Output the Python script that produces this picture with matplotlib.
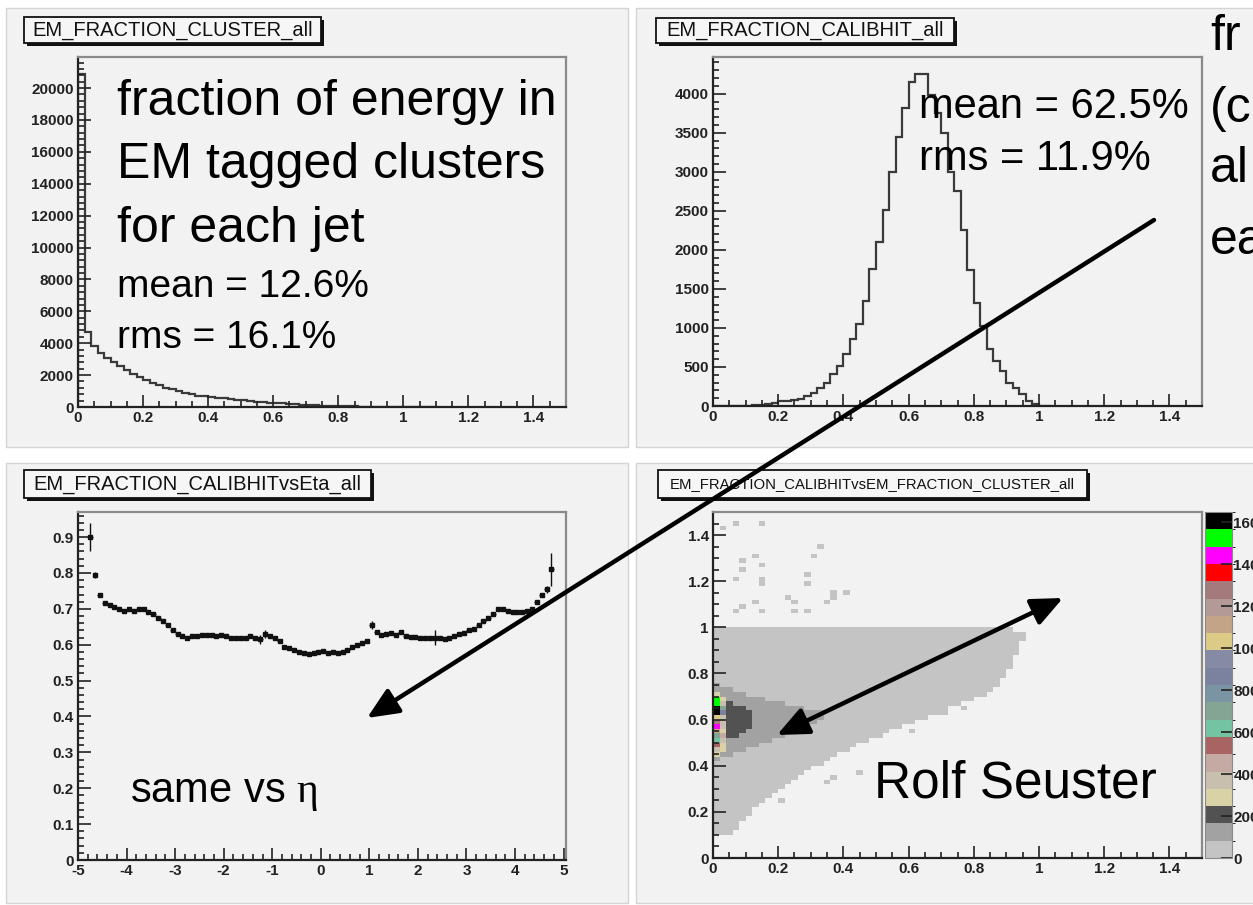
import numpy as np
import matplotlib.pyplot as plt
import matplotlib.transforms as mtransforms
from matplotlib.patches import Rectangle, FancyArrowPatch
from matplotlib.colors import ListedColormap, BoundaryNorm
from matplotlib.ticker import MultipleLocator, FuncFormatter

plt.rcParams['font.family'] = ['Liberation Sans', 'DejaVu Sans']
plt.rcParams['mathtext.fontset'] = 'custom'
plt.rcParams['mathtext.rm'] = 'Liberation Serif'

W, H = 1253, 905
PAD_BG = '#f2f2f2'

########## DATA ##########

# EM_FRACTION_CLUSTER_all, 0.02 wide bins from 0 to 1.5
cluster_counts = [20900, 4700, 3800, 3400, 3100, 2800, 2550, 2300, 2100, 1900,
                  1700, 1520, 1360, 1220, 1100, 980, 880, 790, 710, 660,
                  620, 580, 540, 500, 460, 420, 380, 340, 300, 270,
                  250, 220, 190, 165, 140, 120, 100, 85, 70, 58,
                  48, 40, 32, 26, 20, 16, 12, 9, 7, 5,
                  4, 3, 2, 2, 1]

# EM_FRACTION_CALIBHIT_all, 0.02 wide bins from 0 to 1.5
calib_counts = [0, 0, 0, 0, 2, 5, 10, 15, 25, 40,
                60, 64, 80, 90, 128, 167, 231, 296, 411, 514,
                668, 860, 1054, 1350, 1760, 2099, 2506, 2998, 3448, 3816,
                4155, 4253, 4253, 3980, 3750, 3500, 3000, 2760, 2250, 1740,
                1320, 1030, 730, 580, 450, 300, 230, 150, 65, 20, 5, 2]

# EM_FRACTION_CALIBHITvsEta_all, 0.1 wide bins from -5 to 5 (None = empty)
eta_profile = [None, None, 0.90, 0.795, 0.738, 0.715, 0.71, 0.705, 0.70, 0.695,
               0.70, 0.695, 0.70, 0.70, 0.69, 0.685, 0.675, 0.665, 0.655, 0.64,
               0.63, 0.625, 0.62, 0.625, 0.625, 0.627, 0.627, 0.626, 0.625, 0.626,
               0.623, 0.62, 0.62, 0.618, 0.62, 0.625, 0.62, 0.615, 0.63, 0.625,
               0.62, 0.61, 0.595, 0.59, 0.585, 0.58, 0.578, 0.575, 0.577, 0.58,
               0.582, 0.578, 0.58, 0.578, 0.58, 0.585, 0.595, 0.60, 0.605, 0.61,
               0.655, 0.635, 0.628, 0.63, 0.632, 0.628, 0.635, 0.625, 0.622, 0.622,
               0.62, 0.62, 0.62, 0.62, 0.62, 0.615, 0.62, 0.625, 0.63, 0.632,
               0.64, 0.645, 0.655, 0.665, 0.675, 0.685, 0.70, 0.70, 0.695, 0.692,
               0.69, 0.692, 0.695, 0.70, 0.72, 0.74, 0.755, 0.81, None, None]
eta_err_default = 0.004
eta_err_big = {2: 0.04, 3: 0.008, 37: 0.012, 38: 0.01, 60: 0.012, 73: 0.02, 96: 0.01, 97: 0.045}

# EM_FRACTION_CALIBHIT vs EM_FRACTION_CLUSTER, 0.02 bins
# populated wedge: for each row (centres 0.11 .. 0.99) the right edge in x
wedge_xmax = [0.06, 0.08, 0.08, 0.10, 0.12, 0.13, 0.15, 0.16, 0.18, 0.20,
              0.22, 0.24, 0.26, 0.29, 0.31, 0.34, 0.36, 0.39, 0.42, 0.45,
              0.48, 0.52, 0.55, 0.59, 0.63, 0.66, 0.70, 0.73, 0.77, 0.80,
              0.84, 0.87, 0.88, 0.89, 0.90, 0.91, 0.92, 0.92, 0.93, 0.94,
              0.94, 0.95, 0.96, 0.96, 0.92]
# denser core, rows centres 0.43 .. 0.75
mid_xmax = [0.02, 0.06, 0.10, 0.14, 0.18, 0.22, 0.25, 0.29, 0.32, 0.35,
            0.34, 0.28, 0.22, 0.16, 0.10, 0.06, 0.03]
# dark core, rows centres 0.49 .. 0.71
dark_xmax = [0.02, 0.05, 0.08, 0.10, 0.12, 0.13, 0.13, 0.12, 0.10, 0.07, 0.04, 0.02]
# first x column, rows centres 0.45 .. 0.71
col0_counts = [300, 400, 500, 650, 700, 1100, 1450, 1250, 1000, 1600, 1650, 1550, 1500, 250]
# second x column, rows centres 0.47 .. 0.69
col1_counts = [250, 280, 350, 420, 300, 380, 350, 330, 900, 700, 380, 260]
# isolated single entries (x, y)
stray_cells = [(0.067, 1.456), (0.148, 1.44), (0.032, 1.42), (0.128, 1.31), (0.087, 1.29),
               (0.32, 1.34), (0.30, 1.30), (0.148, 1.27), (0.067, 1.21), (0.28, 1.22),
               (0.148, 1.21), (0.09, 1.25), (0.23, 1.14), (0.36, 1.16), (0.40, 1.16),
               (0.25, 1.11), (0.34, 1.11), (0.087, 1.09), (0.12, 1.10), (0.15, 1.07),
               (0.067, 1.07), (0.28, 1.06), (0.37, 1.13), (0.24, 1.07), (0.28, 1.19),
               (0.145, 1.19), (0.71, 0.63), (0.77, 0.65), (0.61, 0.55), (0.44, 0.37),
               (0.375, 0.34), (0.35, 0.33), (0.206, 0.24), (0.83, 0.74), (0.95, 0.95)]

palette = ['#c4c4c4', '#a2a2a2', '#525252', '#d9d2a6', '#c9bfae', '#c4aaa2', '#a86462',
           '#74c4a4', '#84a494', '#7a94a4', '#7a82a0', '#868aa4', '#dccb86', '#c4a486',
           '#b49a96', '#a47a7c', '#ff0000', '#ff00ff', '#00ff00', '#000000']
z_max = 1650

########## FIGURE ##########

fig = plt.figure(figsize=(W / 100, H / 100), dpi=100)
fig.patch.set_facecolor('white')
px = mtransforms.Affine2D().scale(1 / W, -1 / H).translate(0, 1) + fig.transFigure


def axes_px(x0, y0, x1, y1):
    return fig.add_axes([x0 / W, 1 - y1 / H, (x1 - x0) / W, (y1 - y0) / H])


def fmt(v, p):
    return '%g' % round(v, 6)


def root_style(ax, xmaj, xmin, ymaj, ymin):
    ax.set_facecolor(PAD_BG)
    ax.xaxis.set_major_locator(MultipleLocator(xmaj))
    ax.xaxis.set_minor_locator(MultipleLocator(xmin))
    ax.yaxis.set_major_locator(MultipleLocator(ymaj))
    ax.yaxis.set_minor_locator(MultipleLocator(ymin))
    ax.xaxis.set_major_formatter(FuncFormatter(fmt))
    ax.yaxis.set_major_formatter(FuncFormatter(fmt))
    ax.tick_params(which='both', direction='in', top=False, right=False,
                   colors='#222222', width=1.2)
    ax.tick_params(which='major', length=9, labelsize=11, pad=3)
    ax.tick_params(which='minor', length=4.5)
    for lab in ax.get_xticklabels() + ax.get_yticklabels():
        lab.set_fontweight('bold')
    for s in ['left', 'bottom']:
        ax.spines[s].set_color('#222222')
        ax.spines[s].set_linewidth(1.6)
    for s in ['top', 'right']:
        ax.spines[s].set_color('#8a8a8a')
        ax.spines[s].set_linewidth(1.6)


# pads
for (x0, y0, x1, y1) in [(6, 8, 628, 447), (636, 8, 1260, 447),
                         (6, 463, 628, 903), (636, 463, 1260, 903)]:
    fig.add_artist(Rectangle((x0, y0), x1 - x0, y1 - y0, transform=px,
                             fc=PAD_BG, ec='#d4d4d4', lw=1.0, zorder=-5))

# top left
ax1 = axes_px(78, 57, 566, 407)
edges1 = np.arange(len(cluster_counts) + 1) * 0.02
ax1.stairs(cluster_counts, edges1, color='#3a3a3a', lw=1.6)
ax1.set_xlim(0, 1.5)
ax1.set_ylim(0, 21950)
root_style(ax1, 0.2, 0.05, 2000, 400)

# top right
ax2 = axes_px(713, 57, 1202, 406)
edges2 = np.arange(len(calib_counts) + 1) * 0.02
ax2.stairs(calib_counts, edges2, color='#3a3a3a', lw=1.6)
ax2.set_xlim(0, 1.5)
ax2.set_ylim(0, 4470)
root_style(ax2, 0.2, 0.05, 500, 100)

# bottom left: profile
ax3 = axes_px(78, 512, 566, 860)
eta_c = np.linspace(-4.95, 4.95, len(eta_profile))
vals = np.array([np.nan if v is None else v for v in eta_profile])
errs = np.array([eta_err_big.get(i, eta_err_default) for i in range(len(eta_profile))])
ok = ~np.isnan(vals)
ax3.errorbar(eta_c[ok], vals[ok], yerr=errs[ok], xerr=0.05, fmt='s', ms=2.2,
             color='#111111', ecolor='#111111', elinewidth=1.0, capsize=0)
ax3.set_xlim(-5, 5.05)
ax3.set_ylim(0, 0.97)
root_style(ax3, 1, 0.2, 0.1, 0.02)

# bottom right: 2d
ax4 = axes_px(713, 512, 1202, 858)
bw = 0.02
nb = 75
grid = np.zeros((nb, nb))
xc = (np.arange(nb) + 0.5) * bw
for k, xm in enumerate(wedge_xmax):
    grid[5 + k, xc < xm] = 40
for k, xm in enumerate(mid_xmax):
    grid[21 + k, xc < xm] = 120
for k, xm in enumerate(dark_xmax):
    grid[24 + k, xc < xm] = 200
for k, v in enumerate(col0_counts):
    grid[22 + k, 0] = v
for k, v in enumerate(col1_counts):
    grid[23 + k, 1] = v
for (x, y) in stray_cells:
    grid[int(y / bw), int(x / bw)] = 20
edges = np.arange(nb + 1) * bw
cmap = ListedColormap(palette)
norm = BoundaryNorm(np.linspace(0, z_max, len(palette) + 1), len(palette))
mesh = ax4.pcolormesh(edges, edges, np.ma.masked_equal(grid, 0), cmap=cmap, norm=norm)
ax4.set_xlim(0, 1.5)
ax4.set_ylim(0, 1.5)
root_style(ax4, 0.2, 0.05, 0.2, 0.05)

cax = axes_px(1205, 512, 1232, 858)
cb = fig.colorbar(mesh, cax=cax, ticks=range(0, 1601, 200))
cb.outline.set_edgecolor('#8a8a8a')
cax.tick_params(direction='in', length=8, width=1.2, labelsize=11, pad=1, colors='#222222')
cax.yaxis.set_major_formatter(FuncFormatter(lambda v, p: '%d' % v))
for lab in cax.get_yticklabels():
    lab.set_fontweight('bold')

# ROOT title boxes
titles = [((24, 17, 321, 43), 'EM_FRACTION_CLUSTER_all', 14.5),
          ((656, 18, 954, 43), 'EM_FRACTION_CALIBHIT_all', 14.5),
          ((24, 470, 371, 498), 'EM_FRACTION_CALIBHITvsEta_all', 14.5),
          ((658, 470, 1087, 498), 'EM_FRACTION_CALIBHITvsEM_FRACTION_CLUSTER_all', 10.7)]
for (x0, y0, x1, y1), s, fs in titles:
    fig.add_artist(Rectangle((x0 + 3, y0 + 3), x1 - x0, y1 - y0, transform=px,
                             fc='#111111', ec='none', zorder=4))
    fig.add_artist(Rectangle((x0, y0), x1 - x0, y1 - y0, transform=px,
                             fc='#f6f6f6', ec='#111111', lw=1.3, zorder=5))
    fig.text((x0 + x1) / 2 / W, 1 - (y0 + y1) / 2 / H, s, fontsize=fs, ha='center',
             va='center', color='#111111', zorder=6)

# slide annotations
notes = [(117, 115, 'fraction of energy in', 36),
         (117, 178, 'EM tagged clusters', 36),
         (117, 242, 'for each jet', 36),
         (117, 297, 'mean = 12.6%', 28),
         (117, 348, 'rms = 16.1%', 28),
         (919, 118, 'mean = 62.5%', 30),
         (919, 170, 'rms = 11.9%', 30),
         (1210, 50, 'fr', 36),
         (1210, 122, '(c', 36),
         (1210, 182, 'al', 36),
         (1210, 254, 'ea', 36),
         (874, 797, 'Rolf Seuster', 37),
         (130, 802, r'same vs $\mathrm{\eta}$', 30)]
for x, y, s, fs in notes:
    fig.text(x / W, 1 - y / H, s, fontsize=fs, ha='left', va='baseline', zorder=10)

arrows = [((1154, 220), (367, 718), '-|>'), ((777, 735), (1063, 598), '<|-|>')]
for (xa, ya), (xb, yb), st in arrows:
    fig.add_artist(FancyArrowPatch((xa / W, 1 - ya / H), (xb / W, 1 - yb / H),
                                   transform=fig.transFigure,
                                   arrowstyle=st + ',head_length=0.95,head_width=0.42',
                                   mutation_scale=20, lw=3.2, color='black',
                                   shrinkA=0, shrinkB=0, zorder=12))

fig.savefig('out.png', dpi=100)
